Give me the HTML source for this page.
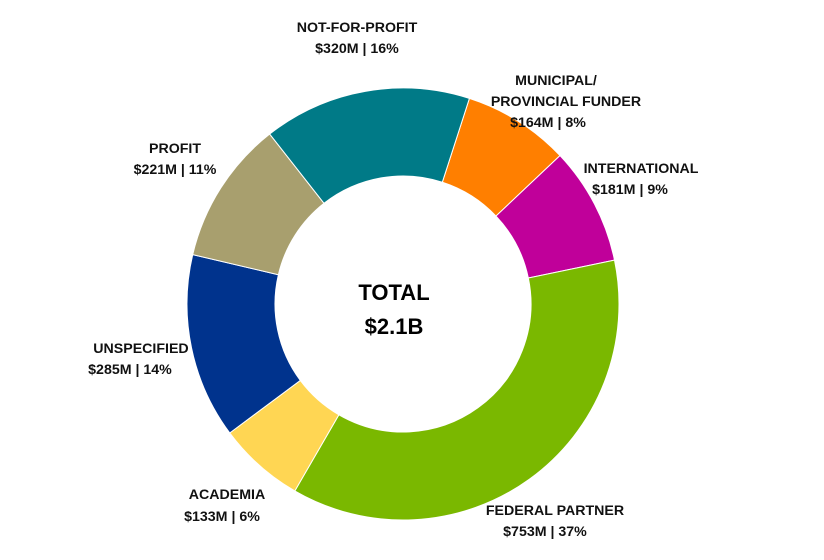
<!DOCTYPE html>
<html><head><meta charset="utf-8"><style>
html,body{margin:0;padding:0;background:#fff;}
svg{display:block;font-family:"Liberation Sans",Arial,sans-serif;font-weight:bold;}
</style></head><body>
<svg id="s" width="824" height="560" viewBox="0 0 824 560">
<g id="g"></g>
<g font-size="14.2" fill="#111" text-anchor="middle">
<text x="357" y="32">NOT-FOR-PROFIT</text>
<text x="357" y="53">$320M | 16%</text>
<text x="556" y="85">MUNICIPAL/</text>
<text x="566" y="106">PROVINCIAL FUNDER</text>
<text x="548" y="127">$164M | 8%</text>
<text x="641" y="173">INTERNATIONAL</text>
<text x="630" y="194">$181M | 9%</text>
<text x="175" y="153">PROFIT</text>
<text x="175" y="174">$221M | 11%</text>
<text x="141" y="353">UNSPECIFIED</text>
<text x="130" y="374">$285M | 14%</text>
<text x="227" y="499">ACADEMIA</text>
<text x="222" y="521">$133M | 6%</text>
<text x="555" y="515">FEDERAL PARTNER</text>
<text x="545" y="536">$753M | 37%</text>
</g>
<g font-size="22" fill="#000" text-anchor="middle">
<text x="394" y="300">TOTAL</text>
<text x="394" y="334">$2.1B</text>
</g>
</svg>
<script>
var cx=403,cy=304,R=216,r=128;
var d=[[164,"#FF7F00"],[181,"#C0009A"],[753,"#7AB800"],[133,"#FFD653"],[285,"#00338D"],[221,"#A89F6E"],[320,"#007A87"]];
var tot=2057,a=17.9,g=document.getElementById("g"),h="";
function p(ang,rad){var t=ang*Math.PI/180;return (cx+rad*Math.sin(t)).toFixed(2)+","+(cy-rad*Math.cos(t)).toFixed(2);}
d.forEach(function(e){var b=a+e[0]/tot*360,l=(b-a)>180?1:0;
h+='<path fill="'+e[1]+'" stroke="#fff" stroke-width="1" d="M'+p(a,R)+' A'+R+','+R+' 0 '+l+' 1 '+p(b,R)+' L'+p(b,r)+' A'+r+','+r+' 0 '+l+' 0 '+p(a,r)+' Z"/>';a=b;});
g.innerHTML=h;
</script>
</body></html>
